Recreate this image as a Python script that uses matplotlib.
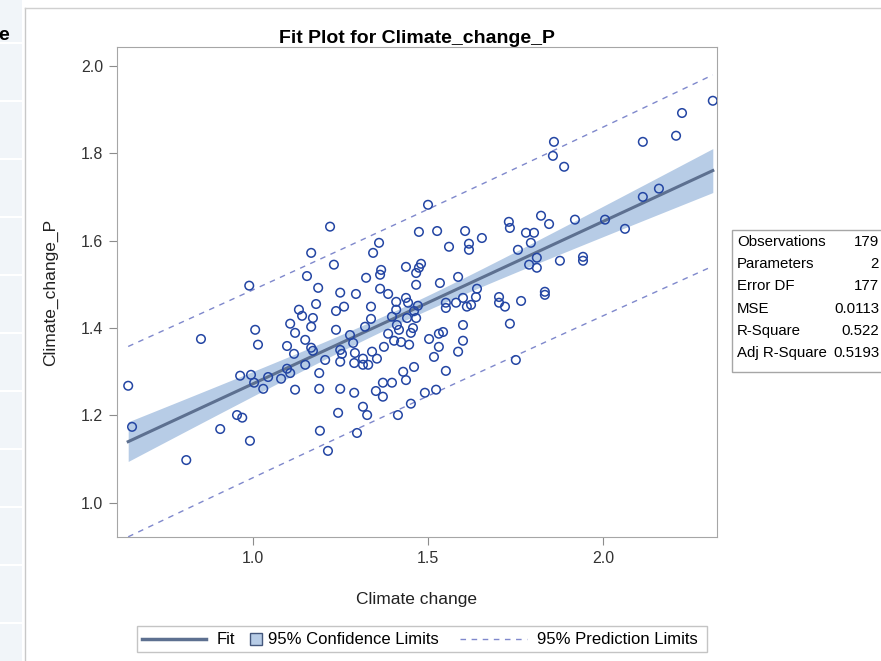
import numpy as np
import matplotlib
matplotlib.use("Agg")
import matplotlib.pyplot as plt
from matplotlib.lines import Line2D
from matplotlib.patches import Rectangle

plt.rcParams['font.family'] = ['Liberation Sans', 'DejaVu Sans']

# 数据: Climate change (x) 与 Climate_change_P (y)
climate_change = [
    0.643, 0.654, 0.809, 0.851, 0.906, 0.954, 0.969, 0.989, 0.991, 0.994,
    0.963, 1.003, 1.006, 1.014, 1.029, 1.043, 1.080, 1.097, 1.097, 1.106,
    1.106, 1.117, 1.120, 1.120, 1.131, 1.140, 1.149, 1.149, 1.154, 1.166,
    1.166, 1.166, 1.171, 1.171, 1.180, 1.186, 1.189, 1.189, 1.191,
    1.220, 1.231, 1.249, 1.294, 1.260, 1.237, 1.237, 1.277, 1.286, 1.249,
    1.254, 1.291, 1.206, 1.249, 1.289, 1.249, 1.289, 1.243, 1.297, 1.214,
    1.314, 1.314, 1.329, 1.340, 1.354, 1.374, 1.320, 1.337, 1.337, 1.323,
    1.343, 1.360, 1.366, 1.363, 1.363, 1.386, 1.386, 1.403, 1.423, 1.446,
    1.409, 1.409, 1.397, 1.411, 1.417, 1.437, 1.443, 1.437, 1.480, 1.474,
    1.466, 1.466, 1.471, 1.460, 1.440, 1.466, 1.457, 1.451, 1.500, 1.474,
    1.526, 1.606, 1.654, 1.617, 1.617, 1.560, 1.534, 1.586, 1.640, 1.637,
    1.703, 1.703, 1.720, 1.551, 1.551, 1.580, 1.600, 1.611, 1.623, 1.600,
    1.503, 1.531, 1.543, 1.531, 1.600, 1.586, 1.517, 1.429, 1.460, 1.437,
    1.551, 1.371, 1.397, 1.351, 1.371, 1.491, 1.523, 1.451, 1.314, 1.326,
    1.414, 1.731, 1.734, 1.734, 1.751,
    1.757, 1.780, 1.803, 1.794, 1.811, 1.789, 1.811, 1.877, 1.943, 1.943,
    1.823, 1.846, 1.920, 2.006, 2.063, 1.860, 1.857, 1.889, 2.114, 2.209,
    2.226, 2.314, 2.160, 2.114, 1.834, 1.834, 1.766,
]
climate_change_p = [
    1.268, 1.174, 1.098, 1.375, 1.169, 1.201, 1.195, 1.497, 1.142, 1.293,
    1.291, 1.275, 1.396, 1.362, 1.261, 1.288, 1.284, 1.359, 1.307, 1.297,
    1.410, 1.341, 1.389, 1.259, 1.442, 1.428, 1.373, 1.316, 1.519, 1.572,
    1.403, 1.355, 1.348, 1.423, 1.455, 1.492, 1.297, 1.261, 1.165,
    1.632, 1.545, 1.481, 1.478, 1.449, 1.439, 1.396, 1.384, 1.366, 1.350,
    1.341, 1.343, 1.327, 1.323, 1.320, 1.261, 1.252, 1.206, 1.160, 1.119,
    1.330, 1.316, 1.316, 1.346, 1.330, 1.357, 1.403, 1.449, 1.421, 1.515,
    1.572, 1.595, 1.533, 1.522, 1.490, 1.478, 1.387, 1.371, 1.368, 1.362,
    1.460, 1.442, 1.426, 1.407, 1.396, 1.469, 1.458, 1.540, 1.547, 1.538,
    1.526, 1.499, 1.451, 1.439, 1.423, 1.423, 1.400, 1.389, 1.682, 1.620,
    1.622, 1.622, 1.606, 1.593, 1.579, 1.586, 1.503, 1.517, 1.490, 1.471,
    1.471, 1.458, 1.449, 1.458, 1.446, 1.458, 1.469, 1.449, 1.453, 1.407,
    1.375, 1.387, 1.391, 1.357, 1.371, 1.346, 1.334, 1.300, 1.311, 1.281,
    1.302, 1.275, 1.275, 1.256, 1.243, 1.252, 1.259, 1.227, 1.220, 1.201,
    1.201, 1.643, 1.629, 1.410, 1.327,
    1.579, 1.618, 1.618, 1.595, 1.561, 1.545, 1.538, 1.554, 1.563, 1.554,
    1.657, 1.638, 1.648, 1.648, 1.627, 1.826, 1.794, 1.769, 1.826, 1.840,
    1.892, 1.920, 1.719, 1.700, 1.483, 1.476, 1.462,
]

stat_names = ["Observations", "Parameters", "Error DF", "MSE", "R-Square", "Adj R-Square"]
stat_values = ["179", "2", "177", "0.0113", "0.522", "0.5193"]

x = np.array(climate_change)
y = np.array(climate_change_p)

# 线性回归 + 置信带/预测带
n = len(x)
b1, b0 = np.polyfit(x, y, 1)
resid = y - (b0 + b1 * x)
s = np.sqrt(np.sum(resid ** 2) / (n - 2))
xbar = x.mean()
sxx = np.sum((x - xbar) ** 2)
t = 1.9735
xg = np.linspace(x.min(), x.max(), 200)
yg = b0 + b1 * xg
se_m = s * np.sqrt(1 / n + (xg - xbar) ** 2 / sxx)
se_p = s * np.sqrt(1 + 1 / n + (xg - xbar) ** 2 / sxx)

fit_c = '#5d7090'
band_c = '#b7cce6'
pred_c = '#7f88cc'

fig = plt.figure(figsize=(8.81, 6.61), dpi=100)
W, H = 881, 661


def fx(px):
    return px / W


def fy(py):
    return 1 - py / H


# 左侧页面残留部分
fig.patches.append(Rectangle((0, 0), fx(22), 1, transform=fig.transFigure,
                             facecolor='#f1f5f9', edgecolor='none'))
for yy in range(43, 661, 58):
    fig.add_artist(Line2D([0, fx(22)], [fy(yy)] * 2, color='white', lw=1.5))
fig.add_artist(Line2D([fx(25)] * 2, [0, fy(8)], color='#c8c8c8', lw=1))
fig.add_artist(Line2D([fx(25), 1], [fy(8)] * 2, color='#d0d0d0', lw=1))
fig.text(fx(-2), fy(35), "e", fontsize=14, fontweight='bold', va='center', ha='left')

ax = fig.add_axes([fx(117), fy(537), 600 / W, 490 / H])

ax.fill_between(xg, yg - t * se_m, yg + t * se_m, color=band_c, lw=0, zorder=1)
ax.plot(xg, yg, color=fit_c, lw=2.2, zorder=2)
ax.plot(xg, yg + t * se_p, color=pred_c, lw=1, ls=(0, (4, 4)), zorder=2)
ax.plot(xg, yg - t * se_p, color=pred_c, lw=1, ls=(0, (4, 4)), zorder=2)
ax.scatter(x, y, s=38, facecolors='none', edgecolors='#2345a3', linewidths=1.1, zorder=3)

ax.set_xlim(0.611, 2.326)
ax.set_ylim(0.922, 2.043)
ax.set_xticks([1.0, 1.5, 2.0])
ax.set_yticks([1.0, 1.2, 1.4, 1.6, 1.8, 2.0])
ax.xaxis.set_major_formatter(matplotlib.ticker.FormatStrFormatter('%.1f'))
ax.yaxis.set_major_formatter(matplotlib.ticker.FormatStrFormatter('%.1f'))
ax.tick_params(length=6, color='#8c8c8c', labelsize=11.5, labelcolor='#333333', pad=4)
for sp in ax.spines.values():
    sp.set_color('#a6a6a6')

ax.set_xlabel("Climate change", fontsize=12.5, color='#222222', labelpad=19)
ax.set_ylabel("Climate_change_P", fontsize=12.5, color='#222222', labelpad=16)
ax.set_title("Fit Plot for Climate_change_P", fontsize=14, fontweight='bold', pad=3)

# 统计表
tb_top, tb_bot = 230, 372
fig.patches.append(Rectangle((fx(732), fy(tb_bot)), 160 / W, (tb_bot - tb_top) / H,
                             transform=fig.transFigure, facecolor='white',
                             edgecolor='#a6a6a6', lw=1))
for i, (nm, val) in enumerate(zip(stat_names, stat_values)):
    yy = fy(242 + i * 22.2)
    fig.text(fx(737), yy, nm, fontsize=10.8, va='center', ha='left')
    fig.text(fx(879), yy, val, fontsize=10.8, va='center', ha='right')

# 图例 (手动绘制)
ly = fy(639)
fig.patches.append(Rectangle((fx(137), fy(652)), 570 / W, 26 / H, transform=fig.transFigure,
                             facecolor='white', edgecolor='#c4c4c4', lw=1))
fig.add_artist(Line2D([fx(142), fx(206)], [ly, ly], color=fit_c, lw=2.5))
fig.text(fx(217), ly, "Fit", fontsize=12, va='center', ha='left')
fig.patches.append(Rectangle((fx(250), fy(645)), 12 / W, 12 / H, transform=fig.transFigure,
                             facecolor=band_c, edgecolor='#44577c', lw=1))
fig.text(fx(268), ly, "95% Confidence Limits", fontsize=12, va='center', ha='left')
fig.add_artist(Line2D([fx(460), fx(527)], [ly, ly], color=pred_c, lw=1, ls=(0, (4, 4))))
fig.text(fx(537), ly, "95% Prediction Limits", fontsize=12, va='center', ha='left')

fig.savefig("out.png", dpi=100)
